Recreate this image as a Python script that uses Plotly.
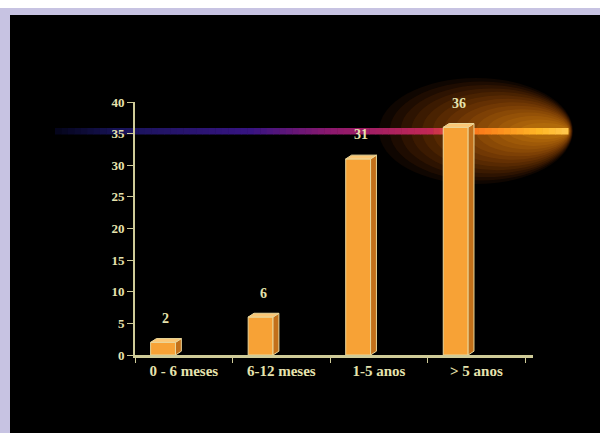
import plotly.graph_objects as go

categories = ["0 - 6 meses", "6-12 meses", "1-5 anos", "> 5 anos"]
values = [2, 6, 31, 36]
y_ticks = [0, 5, 10, 15, 20, 25, 30, 35, 40]

# figure is a bit larger than the window so the black background reaches every edge
W, H = 620, 452
L, T = 135, 102
R = W - 533
B = H - 355
XR = [-0.5, 3.58]
YR = [0, 40]
pw, ph = W - L - R, H - T - B

def px2paper(px):
    return (px - L) / pw

def py2paper(py):
    return (H - B - py) / ph

FRONT = "#F7A236"
TOP = "#FCC775"
SIDE = "#C2701A"
EDGE = "#EBD79A"
TXT = "#E6E3AE"
AX = "#CFCB98"
FONT = "Liberation Serif"

offset = -0.34
bw = 0.255
dx = 0.06
dy = 0.6

fig = go.Figure()

fig.add_trace(go.Bar(
    x=categories, y=values, offset=offset, width=bw,
    marker=dict(color=FRONT, line=dict(color=EDGE, width=1)),
    hoverinfo="skip", showlegend=False,
))

for i, v in enumerate(values):
    x0 = i + offset
    x1 = x0 + bw
    fig.add_trace(go.Scatter(
        x=[x1, x1 + dx, x1 + dx, x1, x1], y=[0, dy, v + dy, v, 0],
        xaxis="x2", fill="toself", fillcolor=SIDE, mode="lines",
        line=dict(color=EDGE, width=1), hoverinfo="skip", showlegend=False))
    fig.add_trace(go.Scatter(
        x=[x0, x1, x1 + dx, x0 + dx, x0], y=[v, v, v + dy, v + dy, v],
        xaxis="x2", fill="toself", fillcolor=TOP, mode="lines",
        line=dict(color=EDGE, width=1), hoverinfo="skip", showlegend=False))

shapes = []
# comet-like glow
glow_cy = 131
nl = 14
for k in range(nl):
    f = k / (nl - 1)
    rx = 97 - 72 * f
    ry = 53 - 45 * f
    x1 = 573 - 4 * f
    x0 = x1 - 2 * rx
    a = 0.06 + 0.05 * f
    shapes.append(dict(type="circle", xref="paper", yref="paper",
                       x0=px2paper(x0), x1=px2paper(x1),
                       y0=py2paper(glow_cy + ry), y1=py2paper(glow_cy - ry),
                       fillcolor="rgba(255,%d,20,%.3f)" % (105 + int(75 * f), a),
                       line=dict(width=0), layer="below"))

# horizontal streak
stops = [(55, (5, 5, 25)), (120, (25, 20, 90)), (250, (55, 20, 130)),
         (330, (140, 25, 110)), (430, (195, 40, 85)), (470, (250, 115, 25)),
         (540, (255, 185, 40)), (568, (255, 200, 80))]
n = 80
for s in range(n):
    xa = 55 + (568 - 55) * s / n
    xb = 55 + (568 - 55) * (s + 1) / n
    xm = (xa + xb) / 2
    for j in range(len(stops) - 1):
        if stops[j][0] <= xm <= stops[j + 1][0]:
            t = (xm - stops[j][0]) / (stops[j + 1][0] - stops[j][0])
            c = tuple(int(stops[j][1][q] + t * (stops[j + 1][1][q] - stops[j][1][q])) for q in range(3))
            break
    shapes.append(dict(type="rect", xref="paper", yref="paper",
                       x0=px2paper(xa), x1=px2paper(xb + 0.5),
                       y0=py2paper(134.5), y1=py2paper(128),
                       fillcolor="rgb(%d,%d,%d)" % c, line=dict(width=0), layer="below"))

# page frame: white margin on top and lavender border
shapes += [
    dict(type="rect", xref="paper", yref="paper", x0=px2paper(0), x1=px2paper(W),
         y0=py2paper(8), y1=py2paper(0), fillcolor="white", line=dict(width=0)),
    dict(type="rect", xref="paper", yref="paper", x0=px2paper(0), x1=px2paper(W),
         y0=py2paper(15), y1=py2paper(8), fillcolor="#C7C3E2", line=dict(width=0)),
    dict(type="rect", xref="paper", yref="paper", x0=px2paper(0), x1=px2paper(10),
         y0=py2paper(H), y1=py2paper(8), fillcolor="#C7C3E2", line=dict(width=0)),
]

annotations = []
for i, v in enumerate(values):
    annotations.append(dict(x=i + offset + bw / 2 + dx / 2, y=v, xref="x2", yref="y",
                            text=str(v), showarrow=False, yshift=24,
                            font=dict(family=FONT, size=14, color=TXT, weight="bold")))

fig.update_layout(
    width=W, height=H,
    margin=dict(l=L, r=R, t=T, b=B),
    paper_bgcolor="black", plot_bgcolor="rgba(0,0,0,0)",
    bargap=0,
    shapes=shapes, annotations=annotations,
    font=dict(family=FONT, color=TXT),
    xaxis=dict(type="category", range=XR, showgrid=False, zeroline=False,
               showline=True, linecolor=AX, linewidth=3,
               ticks="outside", tickson="boundaries", ticklen=5, tickcolor=AX,
               tickfont=dict(family=FONT, size=15, color=TXT, weight="bold"),
               fixedrange=True),
    xaxis2=dict(overlaying="x", range=XR, visible=False, fixedrange=True),
    yaxis=dict(range=YR, tickvals=y_ticks, showgrid=False, zeroline=False,
               showline=True, linecolor=AX, linewidth=2,
               ticks="outside", ticklen=6, tickcolor=AX,
               tickfont=dict(family=FONT, size=13, color=TXT, weight="bold"),
               fixedrange=True),
)

fig.write_html(
    "out.html",
    config={"displayModeBar": False, "staticPlot": True},
    post_script=(
        "document.body.style.margin='0';"
        "document.body.style.overflow='hidden';"
        "document.documentElement.style.overflow='hidden';"
    ),
)
